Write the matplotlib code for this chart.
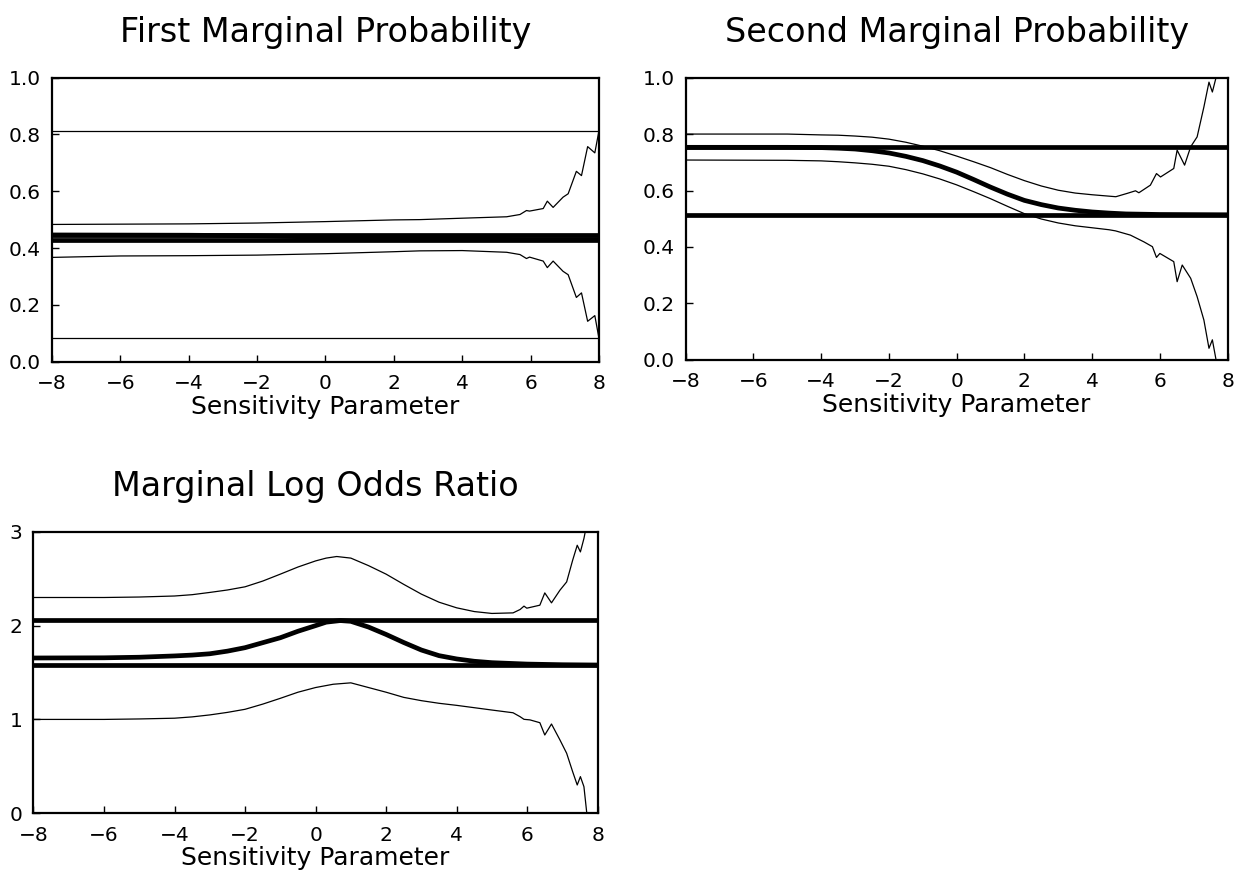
import matplotlib
matplotlib.use("Agg")
import matplotlib.pyplot as plt

plt.rcParams['font.family'] = ['DejaVu Sans']

titles = ['First Marginal Probability', 'Second Marginal Probability', 'Marginal Log Odds Ratio']
xlabel = 'Sensitivity Parameter'

# panel 1: first marginal probability
p1_x = [-8, -6, -4, -2, 0, 2, 2.76, 4, 5.3, 5.69, 5.88, 5.97, 6.37, 6.49, 6.66, 6.95, 7.1, 7.34, 7.49, 7.67, 7.88, 8.0]
p1_upper = [0.483, 0.484, 0.485, 0.488, 0.493, 0.499, 0.500, 0.505, 0.510, 0.518, 0.532, 0.530, 0.539, 0.565,
            0.543, 0.579, 0.591, 0.670, 0.655, 0.757, 0.735, 0.812]
p1_lower = [0.367, 0.372, 0.373, 0.375, 0.380, 0.387, 0.390, 0.391, 0.385, 0.377, 0.363, 0.368, 0.354, 0.331,
            0.354, 0.318, 0.306, 0.226, 0.242, 0.142, 0.162, 0.083]
p1_mid_x = [-8, -4, -2, 0, 2, 4, 6, 8]
p1_mid = [0.446, 0.445, 0.443, 0.438, 0.434, 0.431, 0.430, 0.430]
p1_thick = [0.447, 0.428]
p1_thin = [0.812, 0.083]

# panel 2: second marginal probability
p2_up_x = [-8, -5, -4, -3.5, -3, -2.5, -2, -1.5, -1, -0.5, 0, 0.5, 1, 1.5, 2, 2.5, 3, 3.5, 4, 4.5, 4.7,
           5.04, 5.28, 5.38, 5.72, 5.9, 6.02, 6.41, 6.51, 6.73, 6.91, 7.1, 7.3, 7.45, 7.55, 7.65, 7.75]
p2_upper = [0.800, 0.800, 0.797, 0.796, 0.793, 0.789, 0.782, 0.771, 0.757, 0.741, 0.722, 0.702, 0.681, 0.657,
            0.635, 0.616, 0.601, 0.591, 0.585, 0.580, 0.578, 0.590, 0.599, 0.592, 0.619, 0.660, 0.648, 0.678,
            0.743, 0.690, 0.755, 0.790, 0.896, 0.984, 0.949, 0.996, 1.05]
p2_lo_x = [-8, -5, -4, -3.5, -3, -2.5, -2, -1.5, -1, -0.5, 0, 0.5, 1, 1.5, 2, 2.5, 3, 3.5, 4, 4.5, 4.69,
           5.13, 5.53, 5.78, 5.9, 6.0, 6.41, 6.51, 6.66, 6.91, 7.1, 7.3, 7.45, 7.55, 7.65, 7.72]
p2_lower = [0.708, 0.707, 0.705, 0.702, 0.698, 0.693, 0.686, 0.674, 0.659, 0.641, 0.620, 0.596, 0.571, 0.544,
            0.518, 0.499, 0.485, 0.475, 0.468, 0.461, 0.457, 0.442, 0.418, 0.401, 0.363, 0.377, 0.348, 0.277,
            0.336, 0.289, 0.224, 0.141, 0.041, 0.071, 0.006, -0.05]
p2_mid_x = [-8, -5, -4, -3.5, -3, -2.5, -2, -1.5, -1, -0.5, 0, 0.5, 1, 1.5, 2, 2.5, 3, 3.5, 4, 4.5, 5, 6, 8]
p2_mid = [0.753, 0.753, 0.752, 0.750, 0.747, 0.741, 0.733, 0.721, 0.706, 0.687, 0.665, 0.639, 0.612, 0.587,
          0.565, 0.550, 0.538, 0.530, 0.524, 0.520, 0.517, 0.515, 0.514]
p2_thick = [0.753, 0.514]

# panel 3: marginal log odds ratio
p3_up_x = [-8, -6, -5, -4, -3.5, -3, -2.5, -2, -1.5, -1, -0.5, 0, 0.3, 0.6, 1, 1.5, 2, 2.5, 3, 3.5, 4, 4.5,
           5, 5.6, 5.8, 5.91, 5.99, 6.36, 6.5, 6.69, 6.93, 7.12, 7.29, 7.42, 7.51, 7.61, 7.7]
p3_upper = [2.30, 2.30, 2.305, 2.316, 2.33, 2.354, 2.38, 2.414, 2.475, 2.549, 2.625, 2.69, 2.72, 2.737, 2.72,
            2.64, 2.549, 2.44, 2.336, 2.25, 2.19, 2.15, 2.13, 2.136, 2.172, 2.208, 2.186, 2.218, 2.349, 2.243,
            2.378, 2.466, 2.697, 2.857, 2.786, 2.929, 3.1]
p3_lo_x = [-8, -6, -5, -4, -3.5, -3, -2.5, -2, -1.5, -1, -0.5, 0, 0.5, 1, 1.5, 2, 2.5, 3, 3.5, 4, 4.5, 5,
           5.6, 5.8, 5.91, 6.08, 6.36, 6.5, 6.69, 6.93, 7.12, 7.29, 7.42, 7.51, 7.61, 7.72]
p3_lower = [1.0, 1.0, 1.005, 1.013, 1.027, 1.048, 1.075, 1.108, 1.163, 1.225, 1.29, 1.34, 1.375, 1.39, 1.34,
            1.29, 1.235, 1.20, 1.172, 1.15, 1.125, 1.10, 1.071, 1.029, 1.001, 0.995, 0.965, 0.834, 0.951,
            0.781, 0.639, 0.443, 0.301, 0.39, 0.283, -0.1]
p3_mid_x = [-8, -6, -5, -4, -3.5, -3, -2.5, -2, -1.5, -1, -0.5, 0, 0.3, 0.7, 1, 1.5, 2, 2.5, 3, 3.5, 4, 4.5,
            5, 6, 7, 8]
p3_mid = [1.655, 1.657, 1.663, 1.677, 1.686, 1.70, 1.728, 1.765, 1.818, 1.871, 1.94, 2.0, 2.037, 2.054, 2.046,
          1.985, 1.906, 1.82, 1.74, 1.68, 1.645, 1.62, 1.605, 1.59, 1.583, 1.58]
p3_thick = [2.065, 1.578]

xticks = [-8, -6, -4, -2, 0, 2, 4, 6, 8]

THIN = 0.9
THICK = 3.4


def style_axes(ax, title, ylim, yticks, yfmt):
    ax.set_xlim(-8, 8)
    ax.set_ylim(*ylim)
    ax.set_xticks(xticks)
    ax.set_xticklabels([str(t).replace('-', '\u2212') for t in xticks])
    ax.set_yticks(yticks)
    ax.set_yticklabels([yfmt.format(t) for t in yticks])
    ax.tick_params(direction='in', length=5, width=1, labelsize=14.5)
    ax.tick_params(axis='x', pad=9)
    ax.tick_params(axis='y', pad=8)
    for s in ax.spines.values():
        s.set_linewidth(1.6)
    ax.set_title(title, fontsize=24, pad=26)
    ax.set_xlabel(xlabel, fontsize=18, labelpad=1)


fig = plt.figure(figsize=(12.4, 8.82), dpi=100)

ax1 = fig.add_axes([0.042, 0.590, 0.441, 0.322])
for y in p1_thin:
    ax1.axhline(y, color='black', lw=THIN)
for y in p1_thick:
    ax1.axhline(y, color='black', lw=THICK)
ax1.plot(p1_mid_x, p1_mid, color='black', lw=THICK)
ax1.plot(p1_x, p1_upper, color='black', lw=THIN)
ax1.plot(p1_x, p1_lower, color='black', lw=THIN)
style_axes(ax1, titles[0], (0, 1), [0, 0.2, 0.4, 0.6, 0.8, 1.0], '{:.1f}')

ax2 = fig.add_axes([0.553, 0.592, 0.437, 0.320])
for y in p2_thick:
    ax2.axhline(y, color='black', lw=THICK)
ax2.plot(p2_mid_x, p2_mid, color='black', lw=THICK)
ax2.plot(p2_up_x, p2_upper, color='black', lw=THIN)
ax2.plot(p2_lo_x, p2_lower, color='black', lw=THIN)
style_axes(ax2, titles[1], (0, 1), [0, 0.2, 0.4, 0.6, 0.8, 1.0], '{:.1f}')

ax3 = fig.add_axes([0.027, 0.078, 0.455, 0.319])
for y in p3_thick:
    ax3.axhline(y, color='black', lw=THICK)
ax3.plot(p3_mid_x, p3_mid, color='black', lw=THICK)
ax3.plot(p3_up_x, p3_upper, color='black', lw=THIN)
ax3.plot(p3_lo_x, p3_lower, color='black', lw=THIN)
style_axes(ax3, titles[2], (0, 3), [0, 1, 2, 3], '{:.0f}')

fig.savefig('out.png', dpi=100)
